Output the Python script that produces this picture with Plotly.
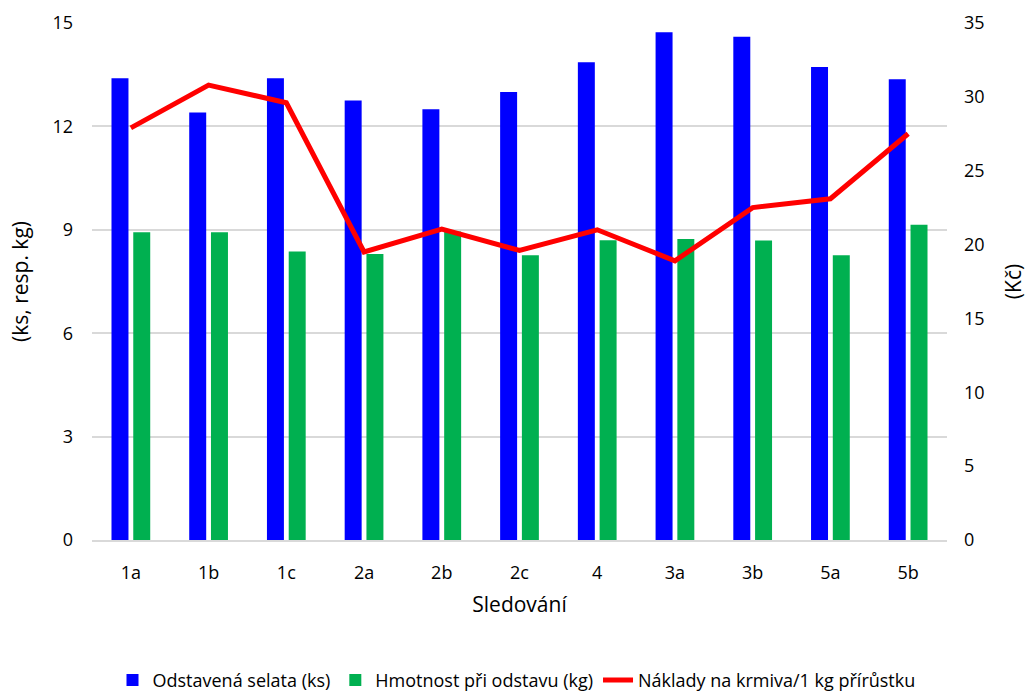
import plotly.graph_objects as go

categories = ["1a", "1b", "1c", "2a", "2b", "2c", "4", "3a", "3b", "5a", "5b"]
selata = [13.4, 12.4, 13.4, 12.75, 12.5, 13.0, 13.86, 14.73, 14.6, 13.72, 13.37]
hmotnost = [8.93, 8.93, 8.37, 8.3, 8.95, 8.26, 8.7, 8.73, 8.69, 8.26, 9.15]
naklady = [27.9, 30.8, 29.6, 19.5, 21.05, 19.6, 21.0, 18.9, 22.5, 23.1, 27.5]

FONT = "Open Sans"

fig = go.Figure()
fig.add_trace(go.Bar(x=categories, y=selata, name="Odstavená selata (ks)",
                     marker=dict(color="#0000FF", line=dict(width=0)), yaxis="y"))
fig.add_trace(go.Bar(x=categories, y=hmotnost, name="Hmotnost při odstavu (kg)",
                     marker=dict(color="#00B050", line=dict(width=0)), yaxis="y"))
fig.add_trace(go.Scatter(x=categories, y=naklady, name="Náklady na krmiva/1 kg přírůstku",
                         mode="lines", line=dict(color="#FF0000", width=5), yaxis="y2"))

fig.update_layout(
    width=1033, height=692,
    margin=dict(l=92, r=86, t=23, b=152, autoexpand=False),
    paper_bgcolor="white", plot_bgcolor="white",
    font=dict(family=FONT, size=18, color="#000000"),
    barmode="group", bargap=0.44, bargroupgap=0.22,
    showlegend=True,
    legend=dict(orientation="h", x=0.5, xanchor="center", xref="container",
                y=0.017, yanchor="middle", yref="container",
                font=dict(family=FONT, size=18), itemwidth=30, tracegroupgap=0),
    xaxis=dict(title=dict(text="Sledování", font=dict(size=21), standoff=14),
               showline=True, linecolor="#d9d9d9", linewidth=1.5,
               ticks="", tickfont=dict(size=18), showgrid=False,
               ticklabelstandoff=16, automargin=False),
    yaxis=dict(title=dict(text="(ks, resp. kg)", font=dict(size=21), standoff=18),
               range=[0, 15], tickvals=[0, 3, 6, 9, 12, 15],
               showgrid=True, gridcolor="#d9d9d9", gridwidth=1.5,
               zeroline=False, ticks="", tickfont=dict(size=18),
               ticklabelstandoff=18, automargin=False),
    yaxis2=dict(title=dict(text="(Kč)", font=dict(size=21), standoff=22),
                overlaying="y", side="right", range=[0, 35],
                tickvals=[0, 5, 10, 15, 20, 25, 30, 35],
                showgrid=False, zeroline=False, ticks="", tickfont=dict(size=18),
                ticklabelstandoff=16, automargin=False),
)

fig.write_html("out.html", config={"displayModeBar": False},
               post_script="document.body.style.margin='0px';")
